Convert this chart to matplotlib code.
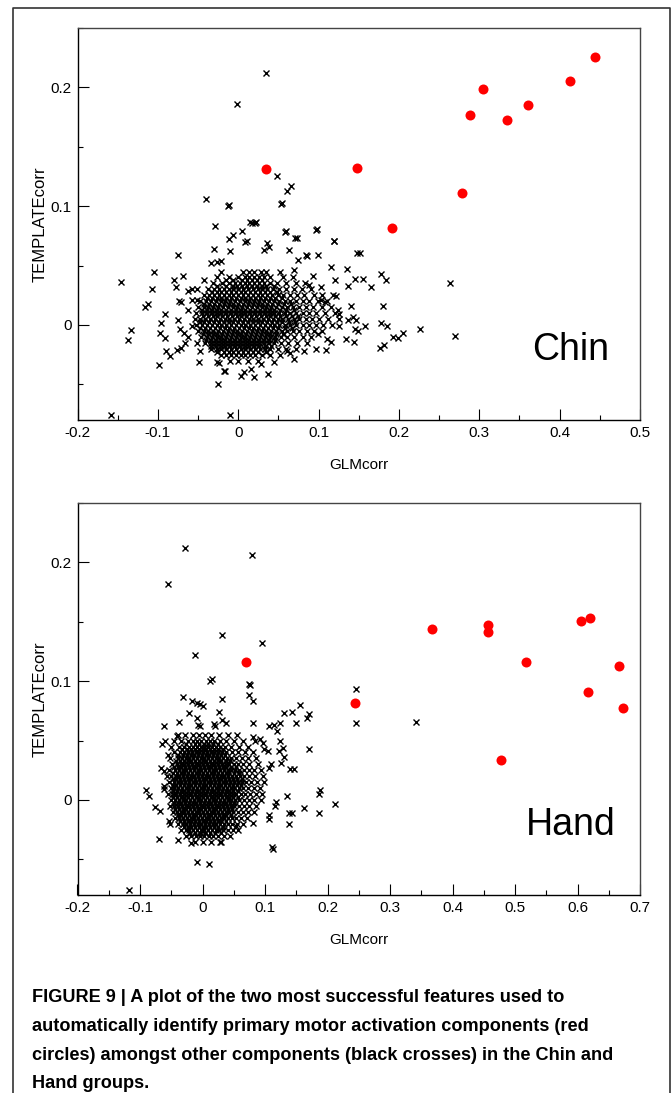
import numpy as np
import matplotlib
matplotlib.use("Agg")
import matplotlib.pyplot as plt
from matplotlib.lines import Line2D
from matplotlib.ticker import MultipleLocator, FuncFormatter

plt.rcParams['font.family'] = ['Liberation Sans', 'DejaVu Sans']
plt.rcParams['axes.unicode_minus'] = False

# ---------------- Chin panel ----------------
chin_red_x = [0.034, 0.148, 0.191, 0.279, 0.289, 0.304, 0.334, 0.361, 0.413, 0.444]
chin_red_y = [0.131, 0.132, 0.082, 0.111, 0.1765, 0.199, 0.1726, 0.185, 0.205, 0.226]

# sparse crosses around the cloud
chin_out = [
    (0.034, 0.212), (-0.001, 0.186), (0.048, 0.125), (0.0605, 0.113), (0.0655, 0.1166),
    (0.0534, 0.102), (0.017, 0.0857), (0.021, 0.0857), (0.058, 0.078), (0.071, 0.073),
    (0.097, 0.080), (0.1186, 0.071), (-0.040, 0.106), (-0.011, 0.101), (0.054, 0.103),
    (0.148, 0.061), (-0.146, 0.036), (-0.133, -0.004), (-0.137, -0.013), (-0.105, 0.045),
    (-0.112, 0.018), (-0.116, 0.015), (-0.107, 0.030), (-0.098, -0.034), (-0.097, -0.007),
    (-0.096, 0.002), (-0.091, 0.009), (-0.091, -0.011), (-0.090, -0.022), (-0.085, -0.026),
    (-0.080, 0.038), (-0.078, 0.032), (-0.075, 0.059), (-0.069, 0.041), (-0.074, 0.020),
    (-0.071, 0.019), (-0.076, -0.021), (-0.071, -0.019), (-0.063, 0.029), (-0.057, 0.030),
    (-0.051, 0.030), (-0.042, 0.038), (-0.049, -0.031), (-0.029, 0.083), (-0.030, 0.064),
    (-0.034, 0.052), (-0.027, 0.053), (-0.022, 0.054), (-0.012, 0.072), (-0.007, 0.076),
    (0.005, 0.079), (0.015, 0.087), (0.022, 0.087), (0.008, 0.070), (0.011, 0.071),
    (-0.010, 0.062), (-0.026, -0.031), (-0.024, -0.032), (-0.018, -0.039), (-0.016, -0.039),
    (-0.025, -0.050), (0.003, -0.043), (0.007, -0.040), (0.020, -0.044), (0.016, -0.037),
    (0.028, -0.033), (0.037, -0.041), (0.045, -0.031), (0.036, 0.069), (0.038, 0.066),
    (0.032, 0.063), (0.063, 0.063), (0.059, 0.079), (0.073, 0.073), (0.084, 0.059),
    (0.086, 0.058), (0.099, 0.059), (0.098, 0.081), (0.119, 0.071), (0.070, 0.046),
    (0.074, 0.055), (0.116, 0.049), (0.120, 0.038), (0.103, 0.032), (0.135, 0.047),
    (0.137, 0.033), (0.145, 0.039), (0.155, 0.039), (0.152, 0.061), (0.165, 0.032),
    (0.178, 0.043), (0.184, 0.038), (0.180, 0.016), (0.140, 0.016), (0.118, 0.025),
    (0.122, 0.024), (0.108, 0.019), (0.124, 0.013), (0.126, 0.009), (0.137, 0.004),
    (0.143, 0.007), (0.146, 0.004), (0.145, -0.003), (0.149, -0.005), (0.144, -0.014),
    (0.134, -0.012), (0.126, -0.001), (0.158, -0.001), (0.178, 0.002), (0.185, -0.001),
    (0.193, -0.010), (0.199, -0.011), (0.205, -0.007), (0.226, -0.003), (0.263, 0.035),
    (0.270, -0.009), (0.177, -0.019), (0.181, -0.017), (0.111, -0.012), (0.115, -0.014),
    (0.109, -0.021), (0.097, -0.020), (0.082, -0.022), (0.070, -0.029), (0.061, -0.022),
    (0.065, -0.024), (0.099, -0.008), (0.093, 0.041), (0.088, 0.034), (0.103, 0.021),
    (-0.068, -0.007), (-0.062, -0.010), (-0.072, -0.003), (-0.075, 0.004), (-0.063, 0.013),
    (-0.058, 0.021), (-0.051, 0.021), (-0.057, -0.001), (-0.051, -0.015), (-0.047, -0.022),
    (-0.066, -0.015), (-0.158, -0.076), (-0.010, -0.076), (-0.013, 0.100),
]

# dense core: one row of x positions per y level
chin_core_y = [0.045, 0.040, 0.035, 0.030, 0.025, 0.020, 0.015, 0.010,
               0.005, 0.000, -0.005, -0.010, -0.015, -0.020, -0.025, -0.030]
chin_core_x = [
    [-0.022, 0.006, 0.013, 0.020, 0.028, 0.035, 0.052],
    [-0.026, -0.012, 0.000, 0.008, 0.014, 0.020, 0.026, 0.032, 0.040, 0.056, 0.068],
    [-0.031, -0.020, -0.011, -0.004, 0.002, 0.008, 0.014, 0.020, 0.026, 0.032, 0.039,
     0.048, 0.060, 0.072, 0.083],
    [-0.038, -0.030, -0.024, -0.018, -0.012, -0.006, 0.000, 0.006, 0.012, 0.018, 0.024,
     0.030, 0.036, 0.043, 0.051, 0.060, 0.070, 0.079, 0.091],
    [-0.043, -0.036, -0.030, -0.024, -0.018, -0.012, -0.006, 0.000, 0.006, 0.012, 0.018,
     0.024, 0.030, 0.036, 0.042, 0.049, 0.056, 0.064, 0.073, 0.082, 0.094, 0.104],
    [-0.047, -0.040, -0.034, -0.028, -0.022, -0.016, -0.010, -0.004, 0.002, 0.008, 0.014,
     0.020, 0.026, 0.032, 0.038, 0.044, 0.051, 0.058, 0.065, 0.072, 0.080, 0.088, 0.099, 0.110],
    [-0.050, -0.043, -0.037, -0.031, -0.025, -0.019, -0.013, -0.007, -0.001, 0.005, 0.011,
     0.017, 0.023, 0.029, 0.035, 0.041, 0.047, 0.054, 0.061, 0.068, 0.076, 0.084, 0.093,
     0.104, 0.116],
    [-0.052, -0.045, -0.039, -0.033, -0.027, -0.021, -0.015, -0.009, -0.003, 0.003, 0.009,
     0.015, 0.021, 0.027, 0.033, 0.039, 0.045, 0.051, 0.058, 0.065, 0.072, 0.080, 0.088,
     0.097, 0.108, 0.121],
    [-0.054, -0.047, -0.041, -0.035, -0.029, -0.023, -0.017, -0.011, -0.005, 0.001, 0.007,
     0.013, 0.019, 0.025, 0.031, 0.037, 0.043, 0.049, 0.055, 0.062, 0.069, 0.076, 0.084,
     0.092, 0.101, 0.112, 0.125],
    [-0.052, -0.045, -0.039, -0.033, -0.027, -0.021, -0.015, -0.009, -0.003, 0.003, 0.009,
     0.015, 0.021, 0.027, 0.033, 0.039, 0.045, 0.051, 0.058, 0.065, 0.072, 0.080, 0.088,
     0.097, 0.106, 0.117],
    [-0.050, -0.043, -0.037, -0.031, -0.025, -0.019, -0.013, -0.007, -0.001, 0.005, 0.011,
     0.017, 0.023, 0.029, 0.035, 0.041, 0.047, 0.054, 0.061, 0.068, 0.076, 0.085, 0.094, 0.104],
    [-0.046, -0.039, -0.033, -0.027, -0.021, -0.015, -0.009, -0.003, 0.003, 0.009, 0.015,
     0.021, 0.027, 0.033, 0.039, 0.046, 0.053, 0.061, 0.070, 0.080, 0.091],
    [-0.041, -0.034, -0.028, -0.022, -0.016, -0.010, -0.004, 0.002, 0.008, 0.014, 0.020,
     0.026, 0.032, 0.038, 0.045, 0.053, 0.062, 0.073, 0.085],
    [-0.034, -0.027, -0.021, -0.015, -0.009, -0.003, 0.003, 0.009, 0.015, 0.021, 0.027,
     0.033, 0.040, 0.049, 0.060, 0.072],
    [-0.022, -0.015, -0.009, -0.003, 0.003, 0.009, 0.015, 0.021, 0.029, 0.040, 0.052],
    [-0.010, 0.000, 0.012, 0.025],
]

# in-between rows of the solid middle part
chin_mid_y = [0.0375, 0.0325, 0.0275, 0.0225, 0.0175, 0.0125, 0.0075,
              0.0025, -0.0025, -0.0075, -0.0125, -0.0175, -0.0225]
chin_mid_x = [
    [-0.015, -0.007, 0.005, 0.011, 0.017, 0.023, 0.029],
    [-0.027, -0.015, -0.007, -0.001, 0.005, 0.011, 0.017, 0.023, 0.029, 0.035, 0.045],
    [-0.033, -0.027, -0.021, -0.015, -0.009, -0.003, 0.003, 0.009, 0.015, 0.021, 0.027,
     0.033, 0.040, 0.048],
    [-0.039, -0.033, -0.027, -0.021, -0.015, -0.009, -0.003, 0.003, 0.009, 0.015, 0.021,
     0.027, 0.033, 0.039, 0.046, 0.054],
    [-0.042, -0.036, -0.030, -0.024, -0.018, -0.012, -0.006, 0.000, 0.006, 0.012, 0.018,
     0.024, 0.030, 0.036, 0.042, 0.049, 0.057, 0.066],
    [-0.045, -0.039, -0.033, -0.027, -0.021, -0.015, -0.009, -0.003, 0.003, 0.009, 0.015,
     0.021, 0.027, 0.033, 0.039, 0.045, 0.052, 0.060, 0.069],
    [-0.044, -0.038, -0.032, -0.026, -0.020, -0.014, -0.008, -0.002, 0.004, 0.010, 0.016,
     0.022, 0.028, 0.034, 0.040, 0.046, 0.052, 0.059, 0.067, 0.075],
    [-0.048, -0.042, -0.036, -0.030, -0.024, -0.018, -0.012, -0.006, 0.000, 0.006, 0.012,
     0.018, 0.024, 0.030, 0.036, 0.042, 0.048, 0.055, 0.063, 0.071],
    [-0.047, -0.041, -0.035, -0.029, -0.023, -0.017, -0.011, -0.005, 0.001, 0.007, 0.013,
     0.019, 0.025, 0.031, 0.037, 0.043, 0.050, 0.058, 0.067],
    [-0.044, -0.038, -0.032, -0.026, -0.020, -0.014, -0.008, -0.002, 0.004, 0.010, 0.016,
     0.022, 0.028, 0.034, 0.040, 0.047, 0.056],
    [-0.040, -0.034, -0.028, -0.022, -0.016, -0.010, -0.004, 0.002, 0.008, 0.014, 0.020,
     0.026, 0.032, 0.038, 0.046],
    [-0.034, -0.028, -0.022, -0.016, -0.010, -0.004, 0.002, 0.008, 0.014, 0.020, 0.026,
     0.033, 0.041],
    [-0.026, -0.018, -0.012, -0.006, 0.000, 0.006, 0.012, 0.018, 0.025, 0.034],
]

# ---------------- Hand panel ----------------
hand_red_x = [0.0696, 0.2445, 0.367, 0.456, 0.456, 0.478, 0.518, 0.606, 0.617, 0.620, 0.667, 0.673]
hand_red_y = [0.116, 0.0814, 0.1438, 0.147, 0.1415, 0.0336, 0.116, 0.151, 0.0906, 0.153, 0.1126, 0.0777]

hand_out = [
    (-0.028, 0.212), (-0.055, 0.182), (0.079, 0.206), (0.031, 0.139), (0.095, 0.132),
    (-0.012, 0.122), (0.012, 0.100), (0.076, 0.097), (0.075, 0.088), (-0.117, -0.076),
    (-0.090, 0.008), (-0.085, 0.003), (-0.076, -0.006), (-0.068, -0.009), (-0.070, -0.033),
    (-0.054, -0.018), (-0.052, -0.020), (-0.040, -0.034), (-0.019, -0.036), (-0.009, -0.052),
    (0.010, -0.054), (0.028, -0.035), (0.053, -0.022), (0.081, -0.019), (0.111, -0.040),
    (0.112, -0.041), (0.106, -0.016), (0.107, -0.013), (0.118, -0.002), (0.116, -0.005),
    (0.135, 0.003), (0.139, -0.011), (0.143, -0.011), (0.139, -0.020), (0.163, -0.007),
    (0.186, -0.011), (0.187, 0.005), (0.188, 0.008), (0.212, -0.003), (0.245, 0.093),
    (0.245, 0.065), (0.341, 0.066), (0.170, 0.043), (0.140, 0.026), (0.146, 0.026),
    (0.156, 0.080), (0.143, 0.074), (0.131, 0.073), (0.170, 0.072), (0.167, 0.069),
    (0.149, 0.065), (0.124, 0.065), (0.114, 0.063), (0.106, 0.062), (0.119, 0.058),
    (0.124, 0.050), (0.099, 0.043), (0.104, 0.041), (0.122, 0.041), (0.129, 0.044),
    (0.130, 0.036), (0.125, 0.031), (0.109, 0.030), (0.107, 0.027), (0.092, 0.051),
    (0.097, 0.048), (0.081, 0.053), (0.084, 0.050), (0.081, 0.065), (0.080, 0.083),
    (0.074, 0.098), (0.031, 0.085), (0.027, 0.074), (0.015, 0.102), (0.038, 0.065),
    (0.031, 0.067), (0.018, 0.064), (0.020, 0.062), (0.000, 0.079), (-0.004, 0.081),
    (-0.017, 0.083), (-0.009, 0.082), (-0.031, 0.087), (-0.021, 0.073), (-0.009, 0.069),
    (-0.007, 0.063), (-0.004, 0.062), (-0.038, 0.066), (-0.061, 0.062), (-0.041, 0.054),
    (-0.065, 0.047), (-0.060, 0.050), (-0.056, 0.038), (-0.066, 0.027), (-0.061, 0.024),
    (-0.057, 0.020), (-0.062, 0.012), (-0.061, 0.009),
]

hand_core_y = [0.055, 0.050, 0.045, 0.040, 0.035, 0.030, 0.025, 0.020, 0.015, 0.010,
               0.005, 0.000, -0.005, -0.010, -0.015, -0.020, -0.025, -0.030, -0.035]
hand_core_x = [
    [-0.040, -0.028, -0.016, -0.006, 0.004, 0.014, 0.026, 0.040, 0.055],
    [-0.046, -0.034, -0.024, -0.016, -0.009, -0.002, 0.005, 0.012, 0.019, 0.028, 0.038,
     0.050, 0.064],
    [-0.050, -0.038, -0.029, -0.022, -0.015, -0.009, -0.003, 0.003, 0.009, 0.015, 0.021,
     0.028, 0.036, 0.046, 0.058, 0.072],
    [-0.046, -0.036, -0.029, -0.023, -0.017, -0.011, -0.005, 0.001, 0.007, 0.013, 0.019,
     0.025, 0.031, 0.038, 0.047, 0.057, 0.068, 0.080],
    [-0.052, -0.040, -0.033, -0.027, -0.021, -0.015, -0.009, -0.003, 0.003, 0.009, 0.015,
     0.021, 0.027, 0.033, 0.039, 0.046, 0.054, 0.063, 0.073, 0.085],
    [-0.049, -0.041, -0.035, -0.029, -0.023, -0.017, -0.011, -0.005, 0.001, 0.007, 0.013,
     0.019, 0.025, 0.031, 0.037, 0.043, 0.050, 0.057, 0.065, 0.075, 0.088],
    [-0.053, -0.044, -0.038, -0.032, -0.026, -0.020, -0.014, -0.008, -0.002, 0.004, 0.010,
     0.016, 0.022, 0.028, 0.034, 0.040, 0.046, 0.052, 0.059, 0.066, 0.074, 0.083, 0.094],
    [-0.050, -0.043, -0.037, -0.031, -0.025, -0.019, -0.013, -0.007, -0.001, 0.005, 0.011,
     0.017, 0.023, 0.029, 0.035, 0.041, 0.047, 0.053, 0.060, 0.067, 0.075, 0.084, 0.096],
    [-0.054, -0.046, -0.040, -0.034, -0.028, -0.022, -0.016, -0.010, -0.004, 0.002, 0.008,
     0.014, 0.020, 0.026, 0.032, 0.038, 0.044, 0.050, 0.056, 0.063, 0.070, 0.078, 0.087, 0.098],
    [-0.051, -0.045, -0.039, -0.033, -0.027, -0.021, -0.015, -0.009, -0.003, 0.003, 0.009,
     0.015, 0.021, 0.027, 0.033, 0.039, 0.045, 0.051, 0.058, 0.065, 0.073, 0.082, 0.092],
    [-0.055, -0.048, -0.042, -0.036, -0.030, -0.024, -0.018, -0.012, -0.006, 0.000, 0.006,
     0.012, 0.018, 0.024, 0.030, 0.036, 0.042, 0.048, 0.054, 0.061, 0.068, 0.076, 0.085, 0.095],
    [-0.050, -0.044, -0.038, -0.032, -0.026, -0.020, -0.014, -0.008, -0.002, 0.004, 0.010,
     0.016, 0.022, 0.028, 0.034, 0.040, 0.046, 0.052, 0.059, 0.066, 0.074, 0.083, 0.093],
    [-0.052, -0.045, -0.039, -0.033, -0.027, -0.021, -0.015, -0.009, -0.003, 0.003, 0.009,
     0.015, 0.021, 0.027, 0.033, 0.039, 0.045, 0.051, 0.058, 0.066, 0.075, 0.086],
    [-0.047, -0.041, -0.035, -0.029, -0.023, -0.017, -0.011, -0.005, 0.001, 0.007, 0.013,
     0.019, 0.025, 0.031, 0.037, 0.043, 0.049, 0.056, 0.064, 0.073, 0.083],
    [-0.044, -0.037, -0.031, -0.025, -0.019, -0.013, -0.007, -0.001, 0.005, 0.011, 0.017,
     0.023, 0.029, 0.035, 0.041, 0.047, 0.054, 0.062, 0.071],
    [-0.039, -0.032, -0.026, -0.020, -0.014, -0.008, -0.002, 0.004, 0.010, 0.016, 0.022,
     0.028, 0.034, 0.040, 0.047, 0.055, 0.064],
    [-0.034, -0.027, -0.021, -0.015, -0.009, -0.003, 0.003, 0.009, 0.015, 0.021, 0.027,
     0.033, 0.040, 0.048, 0.057],
    [-0.026, -0.018, -0.011, -0.004, 0.003, 0.010, 0.017, 0.025, 0.034, 0.044],
    [-0.012, 0.000, 0.014, 0.030],
]

hand_mid_y = [0.0475, 0.0425, 0.0375, 0.0325, 0.0275, 0.0225, 0.0175, 0.0125, 0.0075,
              0.0025, -0.0025, -0.0075, -0.0125, -0.0175, -0.0225, -0.0275]
hand_mid_x = [
    [-0.026, -0.012, -0.005, 0.002, 0.009, 0.016, 0.024],
    [-0.033, -0.025, -0.018, -0.012, -0.006, 0.000, 0.006, 0.012, 0.018, 0.025, 0.032],
    [-0.039, -0.031, -0.025, -0.019, -0.013, -0.007, -0.001, 0.005, 0.011, 0.017, 0.023,
     0.029, 0.036],
    [-0.043, -0.036, -0.030, -0.024, -0.018, -0.012, -0.006, 0.000, 0.006, 0.012, 0.018,
     0.024, 0.030, 0.037, 0.044],
    [-0.046, -0.040, -0.034, -0.028, -0.022, -0.016, -0.010, -0.004, 0.002, 0.008, 0.014,
     0.020, 0.026, 0.032, 0.038, 0.045, 0.053],
    [-0.047, -0.041, -0.035, -0.029, -0.023, -0.017, -0.011, -0.005, 0.001, 0.007, 0.013,
     0.019, 0.025, 0.031, 0.037, 0.043, 0.050, 0.058],
    [-0.048, -0.042, -0.036, -0.030, -0.024, -0.018, -0.012, -0.006, 0.000, 0.006, 0.012,
     0.018, 0.024, 0.030, 0.036, 0.042, 0.048, 0.055, 0.063],
    [-0.048, -0.042, -0.036, -0.030, -0.024, -0.018, -0.012, -0.006, 0.000, 0.006, 0.012,
     0.018, 0.024, 0.030, 0.036, 0.042, 0.048, 0.055, 0.062],
    [-0.047, -0.041, -0.035, -0.029, -0.023, -0.017, -0.011, -0.005, 0.001, 0.007, 0.013,
     0.019, 0.025, 0.031, 0.037, 0.043, 0.049, 0.056],
    [-0.047, -0.041, -0.035, -0.029, -0.023, -0.017, -0.011, -0.005, 0.001, 0.007, 0.013,
     0.019, 0.025, 0.031, 0.037, 0.043, 0.049, 0.056],
    [-0.046, -0.040, -0.034, -0.028, -0.022, -0.016, -0.010, -0.004, 0.002, 0.008, 0.014,
     0.020, 0.026, 0.032, 0.038, 0.044, 0.051],
    [-0.044, -0.038, -0.032, -0.026, -0.020, -0.014, -0.008, -0.002, 0.004, 0.010, 0.016,
     0.022, 0.028, 0.034, 0.040, 0.047],
    [-0.040, -0.034, -0.028, -0.022, -0.016, -0.010, -0.004, 0.002, 0.008, 0.014, 0.020,
     0.026, 0.032, 0.038, 0.045],
    [-0.036, -0.030, -0.024, -0.018, -0.012, -0.006, 0.000, 0.006, 0.012, 0.018, 0.024,
     0.030, 0.037],
    [-0.030, -0.024, -0.018, -0.012, -0.006, 0.000, 0.006, 0.012, 0.018, 0.025, 0.033],
    [-0.020, -0.012, -0.004, 0.004, 0.012, 0.020, 0.029],
]

caption_lines = [
    "FIGURE 9 | A plot of the two most successful features used to",
    "automatically identify primary motor activation components (red",
    "circles) amongst other components (black crosses) in the Chin and",
    "Hand groups.",
]


def cross_points(out, row_sets):
    xs = [p[0] for p in out]
    ys = [p[1] for p in out]
    for rows_y, rows_x in row_sets:
        for y, row in zip(rows_y, rows_x):
            xs.extend(row)
            ys.extend([y] * len(row))
    return np.array(xs), np.array(ys)


def draw_panel(ax, cx, cy, rx, ry, xmax, name):
    ax.plot(cx, cy, linestyle='none', marker='x', color='black',
            markersize=5.0, markeredgewidth=1.0)
    ax.plot(rx, ry, linestyle='none', marker='o', color='#ff0000',
            markersize=7.2, markeredgewidth=0)
    ax.set_xlim(-0.2, xmax)
    ax.set_ylim(-0.08, 0.25)
    ax.xaxis.set_major_locator(MultipleLocator(0.1))
    ax.xaxis.set_minor_locator(MultipleLocator(0.05))
    ax.yaxis.set_major_locator(MultipleLocator(0.1))
    ax.yaxis.set_minor_locator(MultipleLocator(0.05))
    fmt = FuncFormatter(lambda v, p: '%g' % round(v, 2))
    ax.xaxis.set_major_formatter(fmt)
    ax.yaxis.set_major_formatter(fmt)
    ax.tick_params(which='both', direction='in', top=False, right=False,
                   labelsize=11, width=0.8, pad=4)
    ax.tick_params(which='major', length=8)
    ax.tick_params(which='minor', length=3.6)
    for s in ('left', 'bottom'):
        ax.spines[s].set_color('black')
        ax.spines[s].set_linewidth(1.0)
    for s in ('top', 'right'):
        ax.spines[s].set_color('#444444')
        ax.spines[s].set_linewidth(1.0)
    ax.set_xlabel('GLMcorr', fontsize=11)
    ax.xaxis.label.set_va('center')
    ax.xaxis.set_label_coords(0.5, -0.115)
    ax.set_ylabel('TEMPLATEcorr', fontsize=12)
    ax.yaxis.label.set_va('center')
    ax.yaxis.set_label_coords(-0.067, 0.5)
    ax.text(0.876, 0.178, name, transform=ax.transAxes, fontsize=27,
            ha='center', va='center')


fig = plt.figure(figsize=(6.71, 10.93), dpi=100)
W, H = 671.0, 1093.0

ax1 = fig.add_axes([77.5 / W, 1 - 420 / H, 562.5 / W, 392 / H])
ax2 = fig.add_axes([77.5 / W, 1 - 895 / H, 562.5 / W, 392 / H])

cx, cy = cross_points(chin_out, [(chin_core_y, chin_core_x), (chin_mid_y, chin_mid_x)])
draw_panel(ax1, cx, cy, chin_red_x, chin_red_y, 0.5, 'Chin')
hx, hy = cross_points(hand_out, [(hand_core_y, hand_core_x), (hand_mid_y, hand_mid_x)])
draw_panel(ax2, hx, hy, hand_red_x, hand_red_y, 0.7, 'Hand')

# outer frame (open at the bottom)
fx0, fx1, fy1 = 13 / W, 670 / W, 1 - 8 / H
fig.add_artist(Line2D([fx0, fx0, fx1, fx1], [0, fy1, fy1, 0],
                      transform=fig.transFigure, color='#333333', linewidth=1.2))

for i, line in enumerate(caption_lines):
    fig.text(32 / W, 1 - (998 + 28.5 * i) / H, line,
             fontsize=13.1, fontweight='bold', ha='left', va='center')

fig.savefig('out.png', dpi=100)
